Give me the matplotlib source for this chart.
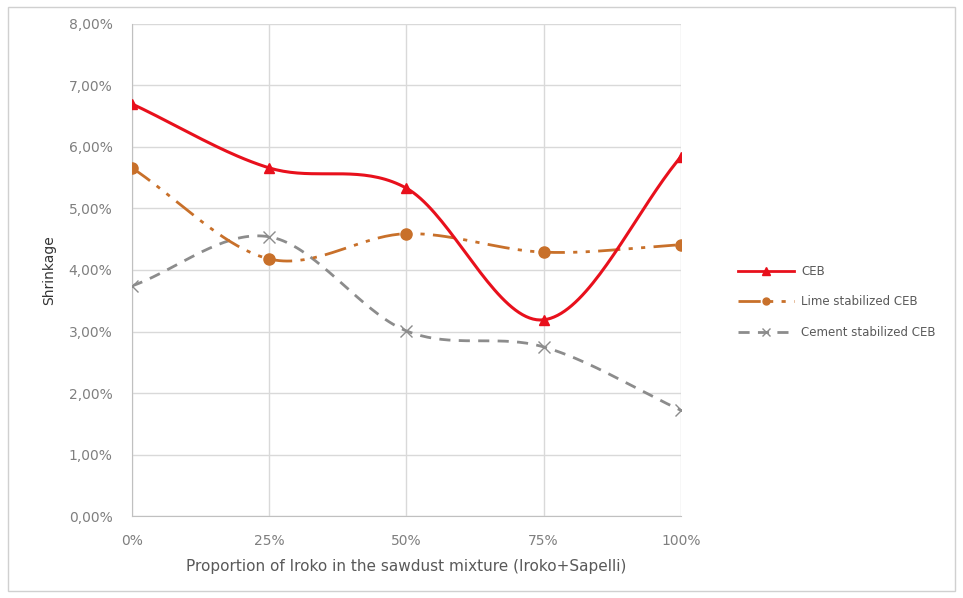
import numpy as np
import matplotlib
matplotlib.use("Agg")
import matplotlib.pyplot as plt
from matplotlib.patches import Rectangle

x_labels = ["0%", "25%", "50%", "75%", "100%"]
x_vals = [0, 25, 50, 75, 100]
ceb = [6.70, 5.66, 5.33, 3.19, 5.84]
lime = [5.66, 4.18, 4.59, 4.29, 4.41]
cement = [3.74, 4.54, 3.01, 2.75, 1.72]


def smooth(x, y, n=40):
    # Catmull-Rom style smoothing like the spreadsheet "smoothed line"
    x = np.asarray(x, float)
    y = np.asarray(y, float)
    px = np.concatenate([[2 * x[0] - x[1]], x, [2 * x[-1] - x[-2]]])
    py = np.concatenate([[2 * y[0] - y[1]], y, [2 * y[-1] - y[-2]]])
    xs, ys = [], []
    for i in range(1, len(px) - 2):
        p0x, p1x, p2x, p3x = px[i - 1], px[i], px[i + 1], px[i + 2]
        p0y, p1y, p2y, p3y = py[i - 1], py[i], py[i + 1], py[i + 2]
        c1x = p1x + (p2x - p0x) / 6
        c1y = p1y + (p2y - p0y) / 6
        c2x = p2x - (p3x - p1x) / 6
        c2y = p2y - (p3y - p1y) / 6
        t = np.linspace(0, 1, n)
        b0 = (1 - t) ** 3
        b1 = 3 * (1 - t) ** 2 * t
        b2 = 3 * (1 - t) * t ** 2
        b3 = t ** 3
        xs.append(b0 * p1x + b1 * c1x + b2 * c2x + b3 * p2x)
        ys.append(b0 * p1y + b1 * c1y + b2 * c2y + b3 * p2y)
    return np.concatenate(xs), np.concatenate(ys)


fig = plt.figure(figsize=(9.63, 5.98), dpi=100)
ax = fig.add_axes([0.137, 0.137, 0.570, 0.823])

fig.patches.append(Rectangle((0.008, 0.012), 0.984, 0.976, transform=fig.transFigure,
                             fill=False, edgecolor="#d0d0d0", linewidth=1))

red = "#e8101c"
orange = "#c8702a"
gray = "#8c8c8c"
lime_dash = (8, 3, 1.5, 3, 1.5, 3)

sx, sy = smooth(x_vals, ceb)
ax.plot(sx, sy, color=red, lw=2.2, zorder=4)
ax.plot(x_vals, ceb, ls="none", marker="^", color=red, ms=7, zorder=5)

sx, sy = smooth(x_vals, lime)
ax.plot(sx, sy, color=orange, lw=2, dashes=lime_dash, zorder=3)
ax.plot(x_vals, lime, ls="none", marker="o", color=orange, ms=8, zorder=5)

sx, sy = smooth(x_vals, cement)
ax.plot(sx, sy, color=gray, lw=2, dashes=(4, 3), zorder=2)
ax.plot(x_vals, cement, ls="none", marker="x", color=gray, ms=9, mew=1, zorder=5)

# legend proxies
ax.plot([], [], color=red, lw=2, marker="^", ms=6, label="CEB")
ax.plot([], [], color=orange, lw=2, dashes=lime_dash, marker="o", ms=5,
        label="Lime stabilized CEB")
ax.plot([], [], color=gray, lw=2, dashes=(4, 3), marker="x", ms=6, label="Cement stabilized CEB")
handles, labels = ax.get_legend_handles_labels()
leg = fig.legend(handles, labels, loc="center left", bbox_to_anchor=(0.755, 0.495),
                 frameon=False, fontsize=8.5, handlelength=4.8, labelspacing=1.5,
                 handletextpad=0.6, labelcolor="#595959")

ax.set_xlim(0, 100)
ax.set_ylim(0, 8)
ax.set_xticks(x_vals)
ax.set_xticklabels(x_labels)
ax.set_yticks(range(0, 9))
ax.set_yticklabels(["%d,00%%" % v for v in range(0, 9)])
ax.grid(True, color="#d9d9d9", lw=1)
ax.set_axisbelow(True)
for s in ["top", "right"]:
    ax.spines[s].set_visible(False)
for s in ["left", "bottom"]:
    ax.spines[s].set_color("#c0c0c0")
ax.tick_params(axis="y", length=0, labelsize=10, colors="#7f7f7f", pad=14)
ax.tick_params(axis="x", length=0, labelsize=10, colors="#7f7f7f", pad=13)
ax.set_ylabel("Shrinkage", fontsize=10, color="#333333", labelpad=9)
ax.set_xlabel("Proportion of Iroko in the sawdust mixture (Iroko+Sapelli)", fontsize=11,
              color="#595959", labelpad=8)

fig.savefig("out.png", dpi=100)
